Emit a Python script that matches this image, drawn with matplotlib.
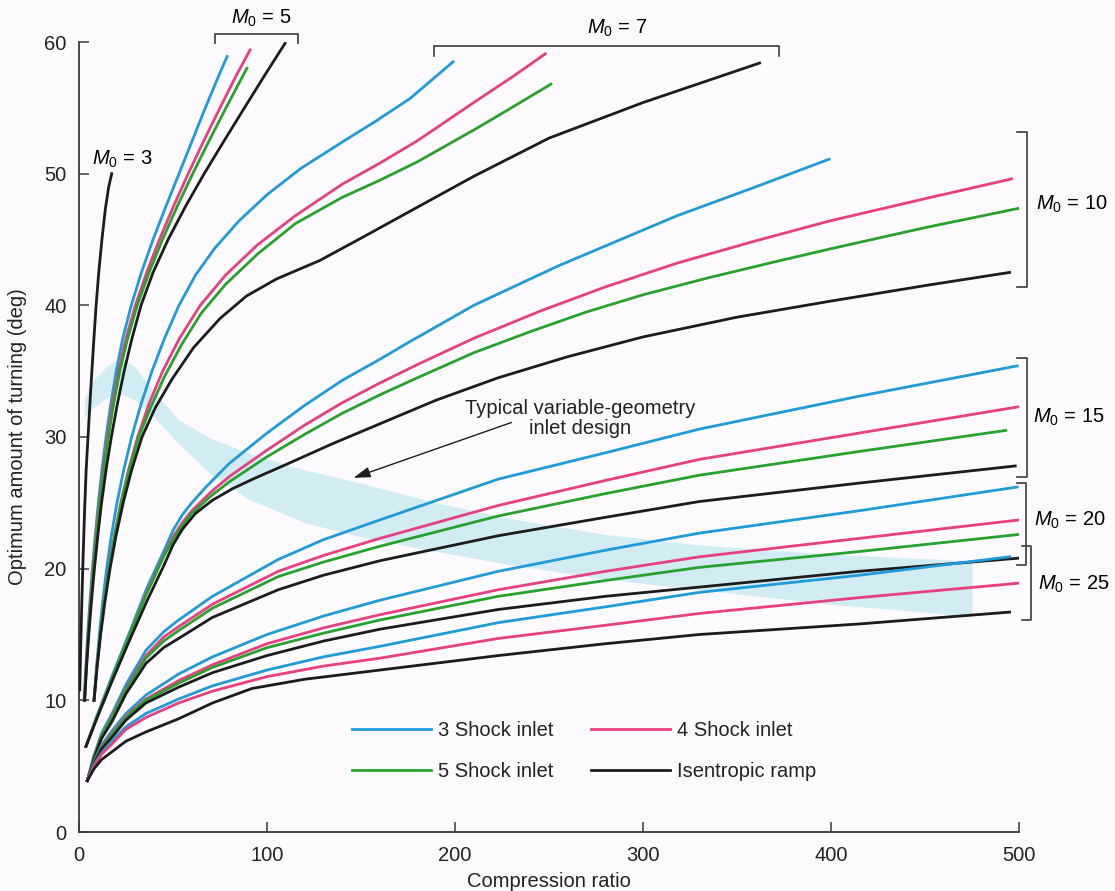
import matplotlib
matplotlib.use('Agg')
import matplotlib.pyplot as plt

# ---------------- data ----------------
# M0 = 3 (isentropic ramp only)
m3_iso_x = [0.4, 0.9, 1.5, 2.2, 3.0, 3.8, 5.0, 6.2, 7.5, 9.0, 10.5, 12.2, 14.0, 15.8, 17.4]
m3_iso_y = [10.8, 14.0, 17.5, 21.0, 24.5, 27.5, 30.5, 33.5, 36.5, 39.8, 42.5, 45.0, 47.3, 49.0, 50.0]

# M0 = 5
m5_y = [10, 12.5, 15, 17.5, 20, 22.5, 25, 27.5, 30, 32.5, 35, 37.5, 40, 42.5, 45, 47.5, 50, 52.5, 55, 57.5]
m5_s3_x = [2.7, 3.6, 4.6, 5.8, 7.1, 8.6, 10.3, 12.2, 14.4, 16.9, 19.8, 23.3, 27.8, 33.2, 39.4, 46.2, 53.2, 60.2, 67.2, 74.5]
m5_s4_x = [2.9, 3.8, 4.9, 6.1, 7.5, 9.0, 10.8, 12.8, 15.1, 17.8, 21.0, 25.0, 30.0, 36.0, 42.8, 50.2, 58.1, 66.4, 75.0, 83.8]
m5_s5_x = [3.0, 3.9, 5.0, 6.3, 7.7, 9.3, 11.1, 13.2, 15.6, 18.4, 21.7, 25.9, 31.0, 37.3, 44.4, 52.2, 60.5, 69.2, 78.2, 87.4]
m5_iso_x = [3.0, 4.0, 5.2, 6.6, 8.2, 10.0, 12.0, 14.4, 17.2, 20.4, 24.0, 28.2, 33.0, 39.4, 47.4, 56.6, 66.6, 77.2, 88.0, 98.9]
m5_end_x = [78.8, 91.0, 89.3, 109.6]
m5_end_y = [58.9, 59.4, 58.0, 59.9]

# M0 = 7
m7_s3_x = [8, 9.3, 10.8, 12.6, 14.7, 17.2, 20.2, 23.8, 28.0, 33.0, 38.8, 45.5, 53.2, 62.0, 72, 85, 100, 118, 140, 158, 176, 199]
m7_s3_y = [10, 12.5, 15, 17.5, 20, 22.5, 25, 27.5, 30, 32.5, 35, 37.5, 40, 42.3, 44.3, 46.4, 48.4, 50.4, 52.4, 54.0, 55.7, 58.5]
m7_s4_x = [8, 9.5, 11.3, 13.4, 15.9, 18.8, 22.2, 26.3, 31.2, 37.2, 44.5, 53.5, 64.5, 78, 95, 115, 140, 160, 180, 211, 230, 248]
m7_s4_y = [10, 12.5, 15, 17.5, 20, 22.5, 25, 27.5, 30, 32.5, 35, 37.5, 40, 42.3, 44.6, 46.8, 49.2, 50.8, 52.5, 55.5, 57.3, 59.1]
m7_s5_x = [8, 9.5, 11.3, 13.5, 16.0, 19.0, 22.5, 26.7, 31.8, 38.3, 45.5, 54.5, 65, 78, 95, 115, 140, 160, 180, 211, 230, 251]
m7_s5_y = [10, 12.5, 15, 17.5, 20, 22.5, 25, 27.5, 30, 32.3, 34.6, 37.0, 39.4, 41.6, 43.9, 46.2, 48.2, 49.5, 50.9, 53.4, 55.0, 56.8]
m7_iso_x = [8, 9.6, 11.5, 13.8, 16.5, 19.7, 23.5, 28, 33.5, 40.5, 49.5, 61, 75, 89, 105, 128, 150, 175.5, 210, 250, 300, 362]
m7_iso_y = [10, 12.5, 15, 17.5, 20, 22.5, 25, 27.5, 30, 32.2, 34.4, 36.8, 39.0, 40.7, 42.0, 43.4, 45.1, 47.1, 49.8, 52.7, 55.4, 58.4]

# M0 = 10
m10_s3_x = [3.7, 10, 18, 27, 36, 45, 50, 55, 60, 67.5, 80, 100, 120, 140, 160, 175.5, 210, 255, 318, 360, 399]
m10_s3_y = [6.5, 9.0, 12.0, 15.2, 18.5, 21.3, 22.9, 24.1, 25.0, 26.2, 28.0, 30.3, 32.4, 34.3, 35.9, 37.2, 40.0, 43.0, 46.8, 49.0, 51.1]
m10_s4_x = [3.7, 10, 18, 27, 36, 45, 50, 55, 60, 70, 80, 100, 120, 140, 160, 180, 210, 246, 280, 318, 360, 399, 450, 496]
m10_s4_y = [6.5, 8.9, 11.8, 15.0, 18.2, 21.0, 22.4, 23.5, 24.4, 25.8, 27.0, 29.0, 30.9, 32.6, 34.1, 35.5, 37.5, 39.6, 41.4, 43.2, 44.9, 46.4, 48.1, 49.6]
m10_s5_x = [3.7, 10, 18, 27, 36, 45, 50, 55, 60, 70, 80, 100, 120, 140, 160, 180, 210, 240, 270, 300, 335, 370, 400, 450, 501]
m10_s5_y = [6.5, 8.9, 11.8, 15.0, 18.1, 20.9, 22.2, 23.3, 24.2, 25.5, 26.6, 28.5, 30.2, 31.8, 33.2, 34.5, 36.4, 38.0, 39.5, 40.8, 42.1, 43.3, 44.3, 45.9, 47.4]
m10_iso_x = [3.7, 10, 18, 27, 36, 45, 50, 55, 62, 71, 82, 94, 110, 135, 160, 190, 223, 260, 300, 350, 399, 450, 495]
m10_iso_y = [6.5, 8.8, 11.6, 14.6, 17.5, 20.2, 21.8, 23.0, 24.2, 25.2, 26.1, 26.9, 27.9, 29.5, 31.0, 32.8, 34.5, 36.1, 37.6, 39.1, 40.3, 41.5, 42.5]

# M0 = 15
m15_x = [4.4, 8, 12, 17.6, 25, 35.6, 45, 53, 71, 106, 130, 160, 223, 280, 330, 415]
m15_s3_y = [3.9, 5.8, 7.5, 9.0, 11.2, 13.8, 15.2, 16.1, 17.9, 20.7, 22.2, 23.7, 26.8, 28.8, 30.6, 33.1]
m15_s4_y = [3.9, 5.7, 7.3, 8.8, 10.9, 13.4, 14.8, 15.6, 17.3, 19.8, 21.0, 22.3, 24.8, 26.7, 28.3, 30.3]
m15_s5_y = [3.9, 5.7, 7.3, 8.7, 10.8, 13.2, 14.5, 15.3, 17.0, 19.4, 20.5, 21.7, 24.0, 25.7, 27.1, 28.9]
m15_iso_y = [3.9, 5.6, 7.1, 8.4, 10.5, 12.8, 14.0, 14.7, 16.3, 18.4, 19.5, 20.6, 22.5, 23.9, 25.1, 26.5]
m15_end_x = [499, 500, 493, 498]
m15_end_y = [35.4, 32.3, 30.5, 27.8]

# M0 = 20
m20_x = [4.4, 8, 12, 17.6, 25, 35.6, 53, 71, 100, 130, 160, 223, 280, 330, 415]
m20_s3_y = [3.9, 5.4, 6.6, 7.7, 9.0, 10.4, 12.0, 13.3, 15.0, 16.4, 17.6, 19.8, 21.4, 22.7, 24.4]
m20_s4_y = [3.9, 5.3, 6.5, 7.5, 8.8, 10.1, 11.5, 12.7, 14.3, 15.5, 16.5, 18.4, 19.8, 20.9, 22.3]
m20_s5_y = [3.9, 5.3, 6.4, 7.4, 8.7, 10.0, 11.3, 12.5, 14.0, 15.1, 16.1, 17.9, 19.1, 20.1, 21.3]
m20_iso_y = [3.9, 5.2, 6.3, 7.2, 8.5, 9.8, 11.0, 12.1, 13.4, 14.5, 15.4, 16.9, 17.9, 18.6, 19.8]
m20_end_x = [499, 500, 500, 500]
m20_end_y = [26.2, 23.7, 22.6, 20.8]

# M0 = 25 (no 5 shock curve)
m25_s3_x = [4.4, 8, 12, 17.6, 25, 35.6, 53, 71, 100, 130, 160, 223, 280, 330, 415, 495]
m25_s3_y = [3.9, 5.1, 6.0, 6.9, 8.0, 9.0, 10.1, 11.1, 12.3, 13.3, 14.1, 15.9, 17.1, 18.2, 19.5, 20.9]
m25_s4_x = [4.4, 8, 12, 17.6, 25, 35.6, 53, 71, 100, 130, 160, 223, 280, 330, 415, 500]
m25_s4_y = [3.9, 5.0, 5.9, 6.7, 7.8, 8.7, 9.8, 10.7, 11.8, 12.6, 13.2, 14.7, 15.7, 16.6, 17.8, 18.9]
m25_iso_x = [4.4, 8, 12, 17.6, 25, 35.6, 53, 71, 92, 120, 160, 223, 280, 330, 415, 495]
m25_iso_y = [3.9, 4.8, 5.5, 6.1, 6.9, 7.6, 8.6, 9.8, 10.9, 11.6, 12.3, 13.4, 14.3, 15.0, 15.8, 16.7]

# shaded band: typical variable-geometry inlet design
band_x = [3, 8, 15, 22, 30, 40, 53, 70, 90, 120, 150, 190, 230, 280, 330, 400, 475]
band_top = [33.0, 34.4, 35.4, 36.0, 35.3, 33.4, 31.3, 29.9, 28.8, 27.5, 26.5, 25.0, 23.8, 22.6, 21.8, 21.1, 20.6]
band_bot = [31.5, 32.3, 33.0, 33.3, 32.8, 31.5, 29.5, 27.2, 25.3, 23.5, 22.4, 21.3, 20.3, 19.2, 18.4, 17.3, 16.4]

legend_labels = ['3 Shock inlet', '4 Shock inlet', '5 Shock inlet', 'Isentropic ramp']
x_ticks = [0, 100, 200, 300, 400, 500]
y_ticks = [0, 10, 20, 30, 40, 50, 60]

# ---------------- style ----------------
BLUE = '#1f9bd7'
PINK = '#e73f80'
GREEN = '#27a22c'
BLACK = '#1c1c1c'
BG = '#fdfafd'
AX = '#3a3a3a'

plt.rcParams['font.family'] = ['Liberation Sans', 'DejaVu Sans']
plt.rcParams['font.size'] = 14.5
plt.rcParams['mathtext.fontset'] = 'custom'
plt.rcParams['mathtext.rm'] = 'Liberation Sans'
plt.rcParams['mathtext.it'] = 'Liberation Sans:italic'

fig = plt.figure(figsize=(11.15, 8.91), dpi=100, facecolor=BG)
ax = fig.add_axes([79/1115, 1-832/891, 940/1115, 790/891])
ax.set_facecolor(BG)

ax.fill_between(band_x, band_bot, band_top, color='#d2ecf4', lw=0, zorder=1)

lw = 2.0
cols = [BLUE, PINK, GREEN, BLACK]
kw = dict(lw=lw, zorder=3, solid_joinstyle='round')
handles = {}

ax.plot(m3_iso_x, m3_iso_y, color=BLACK, **kw)

for i, xs in enumerate([m5_s3_x, m5_s4_x, m5_s5_x, m5_iso_x]):
    ln, = ax.plot(xs + [m5_end_x[i]], m5_y + [m5_end_y[i]], color=cols[i], **kw)
    handles[cols[i]] = ln

for xs, ys, c in [(m7_s3_x, m7_s3_y, BLUE), (m7_s4_x, m7_s4_y, PINK),
                  (m7_s5_x, m7_s5_y, GREEN), (m7_iso_x, m7_iso_y, BLACK),
                  (m10_s3_x, m10_s3_y, BLUE), (m10_s4_x, m10_s4_y, PINK),
                  (m10_s5_x, m10_s5_y, GREEN), (m10_iso_x, m10_iso_y, BLACK)]:
    ax.plot(xs, ys, color=c, **kw)

for i, ys in enumerate([m15_s3_y, m15_s4_y, m15_s5_y, m15_iso_y]):
    ax.plot(m15_x + [m15_end_x[i]], ys + [m15_end_y[i]], color=cols[i], **kw)

for i, ys in enumerate([m20_s3_y, m20_s4_y, m20_s5_y, m20_iso_y]):
    ax.plot(m20_x + [m20_end_x[i]], ys + [m20_end_y[i]], color=cols[i], **kw)

ax.plot(m25_s3_x, m25_s3_y, color=BLUE, **kw)
ax.plot(m25_s4_x, m25_s4_y, color=PINK, **kw)
ax.plot(m25_iso_x, m25_iso_y, color=BLACK, **kw)

# axes
ax.set_xlim(0, 500)
ax.set_ylim(0, 60)
ax.set_xticks(x_ticks)
ax.set_yticks(y_ticks)
for s in ['top', 'right']:
    ax.spines[s].set_visible(False)
for s in ['left', 'bottom']:
    ax.spines[s].set_color(AX)
    ax.spines[s].set_linewidth(1.3)
ax.tick_params(direction='in', length=7, width=1.1, color=AX, labelcolor='#222222')
ax.tick_params(axis='y', pad=9)
ax.tick_params(axis='x', pad=10)
ax.set_xlabel('Compression ratio', labelpad=5, color='#222222')
ax.set_ylabel('Optimum amount of turning (deg)', labelpad=12, color='#222222')

# Mach number labels and brackets
bk = dict(color=AX, lw=1.2, clip_on=False, zorder=4)
ax.text(7, 51.1, r'$M_0$ = 3', ha='left', va='center')
ax.text(97, 61.8, r'$M_0$ = 5', ha='center', va='center')
ax.plot([72.3, 72.3, 116.5, 116.5], [59.9, 60.6, 60.6, 59.9], **bk)
ax.text(286, 61.0, r'$M_0$ = 7', ha='center', va='center')
ax.plot([189, 189, 372.5, 372.5], [58.9, 59.7, 59.7, 58.9], **bk)

ax.plot([499, 504, 504, 499], [53.2, 53.2, 41.4, 41.4], **bk)
ax.text(509, 47.7, r'$M_0$ = 10', ha='left', va='center')
ax.plot([499, 504, 504, 499], [36.0, 36.0, 27.0, 27.0], **bk)
ax.text(507.5, 31.5, r'$M_0$ = 15', ha='left', va='center')
ax.plot([499, 503.7, 503.7, 499], [26.5, 26.5, 20.3, 20.3], **bk)
ax.text(508, 23.7, r'$M_0$ = 20', ha='left', va='center')
ax.plot([501.6, 506.4, 506.4, 501.6], [21.7, 21.7, 16.1, 16.1], **bk)
ax.text(510, 18.8, r'$M_0$ = 25', ha='left', va='center')

# band annotation
ax.annotate('', xy=(146, 26.9), xytext=(230, 31.1),
            arrowprops=dict(arrowstyle='-|>,head_length=0.7,head_width=0.22',
                            color=BLACK, lw=1.0, shrinkA=0, shrinkB=0), zorder=5)
ax.text(266.5, 31.4, 'Typical variable-geometry\ninlet design', ha='center', va='center',
        linespacing=1.05, color='#222222')

# legend
leg = ax.legend([handles[BLUE], handles[GREEN], handles[PINK], handles[BLACK]],
                [legend_labels[0], legend_labels[2], legend_labels[1], legend_labels[3]],
                ncol=2, frameon=False, loc='upper left', bbox_to_anchor=(0.2904, 0.1405),
                borderpad=0, borderaxespad=0, handlelength=3.9, handletextpad=0.35,
                labelspacing=1.1, columnspacing=1.9)
for t in leg.get_texts():
    t.set_color('#222222')

fig.savefig('out.png', dpi=100, facecolor=BG)
